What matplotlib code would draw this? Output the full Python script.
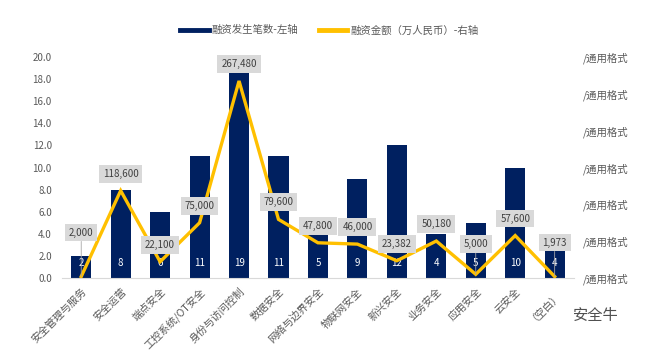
import matplotlib
matplotlib.use("Agg")
import matplotlib.pyplot as plt
from matplotlib.lines import Line2D
from matplotlib.ticker import FixedLocator, FixedFormatter

plt.rcParams['font.family'] = ['Noto Sans CJK SC', 'DejaVu Sans']

categories = ["安全管理与服务", "安全运营", "端点安全", "工控系统/OT安全", "身份与访问控制",
              "数据安全", "网络与边界安全", "物联网安全", "新兴安全", "业务安全",
              "应用安全", "云安全", "（空白）"]
deal_counts = [2, 8, 6, 11, 19, 11, 5, 9, 12, 4, 5, 10, 4]
amounts = [2000, 118600, 22100, 75000, 267480, 79600, 47800, 46000, 23382, 50180, 5000, 57600, 1973]
left_ticks = [0, 2, 4, 6, 8, 10, 12, 14, 16, 18, 20]
right_ticks = [0, 50000, 100000, 150000, 200000, 250000, 300000]
right_tick_label = "/通用格式"
legend_labels = ["融资发生笔数-左轴", "融资金额（万人民币）-右轴"]

NAVY = "#002060"
GOLD = "#FFC000"
GRAY = "#595959"

# label offsets (pixels above point) for a few crowded labels
label_offset_default = 17
label_offset_special = {0: 44, 10: 30, 12: 34}

fig = plt.figure(figsize=(6.55, 3.57), dpi=100)
ax = fig.add_axes([0.0939, 0.2213, 0.783, 0.619])
x = list(range(len(categories)))

ax.bar(x, deal_counts, width=0.51, color=NAVY, zorder=2)
for xi, c in zip(x, deal_counts):
    ax.text(xi, 1.35, str(c), color="white", ha="center", va="center", fontsize=7, zorder=3)

ax.set_xlim(-0.5, len(categories) - 0.5)
ax.set_ylim(0, 20)
ax.yaxis.set_major_locator(FixedLocator(left_ticks))
ax.set_yticklabels([f"{v:.1f}" for v in left_ticks])
ax.set_xticks(x)
ax.set_xticklabels(categories, rotation=45, ha="right", rotation_mode="anchor")
ax.tick_params(axis="both", length=0, colors=GRAY, labelsize=7)
ax.tick_params(axis="x", pad=6, labelsize=7.5)
ax.tick_params(axis="y", pad=7)
for s in ["top", "right", "left"]:
    ax.spines[s].set_visible(False)
ax.spines["bottom"].set_color("#d9d9d9")

ax2 = ax.twinx()
ax2.plot(x, amounts, color=GOLD, lw=2.4, zorder=4, solid_joinstyle="miter")
ax2.set_ylim(0, 300000)
ax2.yaxis.set_major_locator(FixedLocator(right_ticks))
ax2.yaxis.set_major_formatter(FixedFormatter([right_tick_label] * len(right_ticks)))
ax2.tick_params(axis="y", length=0, colors=GRAY, labelsize=7.5, pad=6)
for s in ["top", "right", "left", "bottom"]:
    ax2.spines[s].set_visible(False)

for i, (xi, a) in enumerate(zip(x, amounts)):
    off = label_offset_special.get(i, label_offset_default)
    ax2.annotate(f"{a:,}", xy=(xi, a), xytext=(0, off * 0.72), textcoords="offset points",
                 ha="center", va="center", fontsize=7, color="#404040", zorder=6,
                 bbox=dict(boxstyle="square,pad=0.4", fc="#d9d9d9", ec="none"),
                 arrowprops=(dict(arrowstyle="-", color="#a6a6a6", lw=0.6, shrinkA=0, shrinkB=0)
                             if i in label_offset_special else None))

handles = [Line2D([0], [0], color=NAVY, lw=3.5), Line2D([0], [0], color=GOLD, lw=3.5)]
fig.legend(handles, legend_labels, loc="center", bbox_to_anchor=(0.503, 0.915), ncol=2,
           frameon=False, fontsize=7.5, handlelength=2.7, handletextpad=0.3,
           columnspacing=2.0, labelcolor=GRAY)

fig.text(0.945, 0.115, "安全牛", fontsize=11, color="#505050", ha="right", va="center")

fig.savefig("out.png", dpi=100)
